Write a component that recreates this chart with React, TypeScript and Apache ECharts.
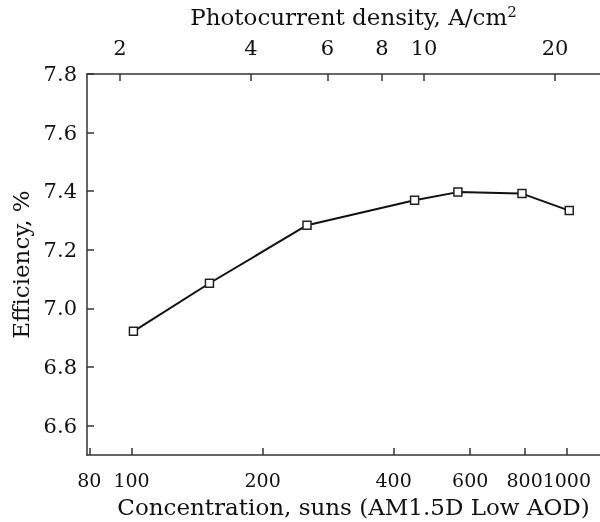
import React, { useEffect, useRef } from "react";
import * as echarts from "echarts";

const concentration = [101, 151, 253, 447, 562, 789, 1013];
const efficiency = [6.922, 7.086, 7.284, 7.369, 7.397, 7.392, 7.334];
const bottomTicks = [80, 100, 200, 400, 600, 800, 1000];
const bottomLabelSlots = [80, 100, 200, 400, 600, 800, 1000, 1300];
const topTicks = [2, 4, 6, 8, 10, 20];
const yTicks = [6.6, 6.8, 7.0, 7.2, 7.4, 7.6, 7.8];
const sunsPerAmp = 47; // suns per A/cm^2
const xMin = 79;
const xMax = 1325;

export default function App() {
  const ref = useRef<HTMLDivElement>(null);
  useEffect(() => {
    if (!ref.current) return;
    const chart = echarts.init(ref.current, undefined, { renderer: "svg" });
    const font = "DejaVu Serif";
    const axisColor = "#333";
    const txt = "#111";
    const bottomTickSize = 19;
    const tickSize = 21;
    const nameSize = 23;
    chart.setOption({
      animation: false,
      textStyle: { fontFamily: font },
      grid: { left: 87, right: -20, top: 74, bottom: 67, outerBoundsMode: "none", containLabel: false },
      xAxis: [
        {
          type: "log",
          position: "bottom",
          min: xMin,
          max: xMax,
          name: "Concentration, suns (AM1.5D Low AOD)",
          nameLocation: "middle",
          nameGap: 40,
          nameTextStyle: { fontFamily: font, fontSize: nameSize, color: txt },
          axisLine: { show: true, lineStyle: { color: axisColor, width: 1.5 } },
          axisTick: { show: true, inside: true, length: 7, customValues: bottomTicks, lineStyle: { color: axisColor, width: 1.5 } },
          axisLabel: {
            show: true,
            margin: 15,
            customValues: bottomLabelSlots,
            hideOverlap: false,
            fontFamily: font,
            fontSize: bottomTickSize,
            color: txt,
            formatter: (v: number) => (bottomTicks.some((t) => Math.abs(t - v) < 1e-6 * t) ? String(Math.round(v)) : ""),
          },
          splitLine: { show: false },
          minorTick: { show: false },
        },
        {
          type: "log",
          position: "top",
          min: xMin / sunsPerAmp,
          max: xMax / sunsPerAmp,
          name: "{a|Photocurrent density, A/cm}{s|2}",
          nameLocation: "middle",
          nameGap: 45,
          nameTextStyle: {
            fontFamily: font,
            fontSize: nameSize,
            color: txt,
            rich: {
              a: { fontFamily: font, fontSize: nameSize, color: txt },
              s: { fontFamily: font, fontSize: 15, color: txt, padding: [0, 0, 10, 0] },
            },
          },
          axisLine: { show: true, lineStyle: { color: axisColor, width: 1.5 } },
          axisTick: { show: true, inside: true, length: 7, customValues: topTicks, lineStyle: { color: axisColor, width: 1.5 } },
          axisLabel: {
            show: true,
            margin: 16,
            customValues: topTicks,
            showMinLabel: true,
            showMaxLabel: true,
            hideOverlap: false,
            fontFamily: font,
            fontSize: tickSize,
            color: txt,
            formatter: (v: number) => String(Math.round(v)),
          },
          splitLine: { show: false },
        },
      ],
      yAxis: {
        type: "value",
        min: 6.5,
        max: 7.8,
        name: "Efficiency, %",
        nameLocation: "middle",
        nameGap: 55,
        nameTextStyle: { fontFamily: font, fontSize: nameSize, color: txt },
        axisLine: { show: true, lineStyle: { color: axisColor, width: 1.5 } },
        axisTick: { show: true, inside: true, length: 7, customValues: yTicks, lineStyle: { color: axisColor, width: 1.5 } },
        axisLabel: {
          show: true,
          margin: 10,
          customValues: yTicks,
          fontFamily: font,
          fontSize: tickSize,
          color: txt,
          formatter: (v: number) => v.toFixed(1),
        },
        splitLine: { show: false },
      },
      series: [
        {
          type: "line",
          xAxisIndex: 0,
          data: concentration.map((c, i) => [c, efficiency[i]]),
          symbol: "rect",
          symbolSize: 8,
          itemStyle: { color: "#fff", borderColor: "#222", borderWidth: 1.5 },
          lineStyle: { color: "#111", width: 2 },
        },
      ],
    });
    return () => chart.dispose();
  }, []);
  return <div ref={ref} style={{ position: "fixed", left: 0, top: 0, width: 600, height: 522 }} />;
}
